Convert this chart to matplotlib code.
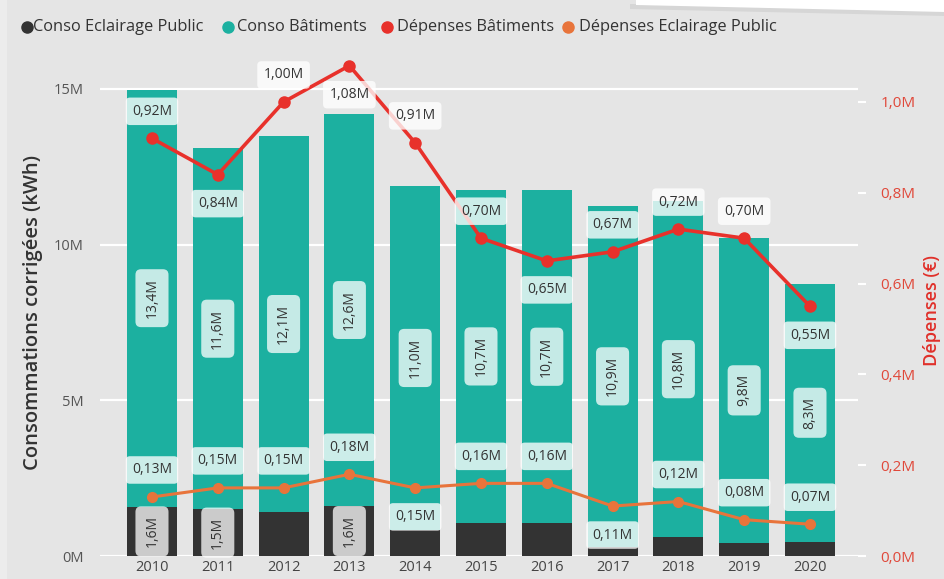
import matplotlib
matplotlib.use("Agg")
import matplotlib.pyplot as plt
import numpy as np
from matplotlib.patches import Polygon, Rectangle
from matplotlib.lines import Line2D

years = ["2010", "2011", "2012", "2013", "2014", "2015", "2016", "2017", "2018", "2019", "2020"]
conso_eclairage = [1.58, 1.5, 1.4, 1.6, 0.84, 1.06, 1.05, 0.3, 0.6, 0.42, 0.45]
conso_batiments = [13.4, 11.6, 12.1, 12.6, 11.04, 10.7, 10.7, 10.94, 10.8, 9.8, 8.3]
depenses_batiments = [0.92, 0.84, 1.00, 1.08, 0.91, 0.70, 0.65, 0.67, 0.72, 0.70, 0.55]
depenses_eclairage = [0.13, 0.15, 0.15, 0.18, 0.15, 0.16, 0.16, 0.11, 0.12, 0.08, 0.07]
left_ticks = [0, 5, 10, 15]
right_ticks = [0.0, 0.2, 0.4, 0.6, 0.8, 1.0]

# label placement (style)
red_pos = ['above', 'below', 'above', 'below', 'above', 'above', 'below', 'above', 'above', 'above', 'below']
orange_pos = ['above', 'above', 'above', 'above', 'below', 'above', 'above', 'below', 'above', 'above', 'above']

plt.rcParams['font.family'] = ['Open Sans', 'DejaVu Sans']

C_DARK = '#333333'
C_TEAL = '#1cb0a0'
C_RED = '#e8312b'
C_ORANGE = '#e8743b'
BG = '#e5e5e5'

W, H = 945, 579
fig = plt.figure(figsize=(W / 100, H / 100), dpi=100)
fig.patch.set_facecolor(BG)

# light strip on left edge and white card at top-right (screenshot artefacts)
fig.add_artist(Rectangle((0, 0), 7 / W, 1, transform=fig.transFigure, fc='#ececec', ec='none', zorder=0))
fig.add_artist(Polygon([[630 / W, 1 - 4 / H], [1, 1 - 10 / H], [1, 1 - 16 / H], [630 / W, 1 - 9 / H]],
                       closed=True, transform=fig.transFigure, fc='#d6d6d6', ec='none', zorder=0))
fig.add_artist(Polygon([[636 / W, 1], [1, 1], [1, 1 - 12 / H], [636 / W, 1 - 5 / H]],
                       closed=True, transform=fig.transFigure, fc='white', ec='none', zorder=1))

ax = fig.add_axes([100 / W, 23 / H, 758 / W, 501 / H])
ax.set_facecolor('none')
x = np.arange(len(years))
bw = 0.76
ax.bar(x, conso_eclairage, width=bw, color=C_DARK, zorder=2)
ax.bar(x, conso_batiments, bottom=conso_eclairage, width=bw, color=C_TEAL, zorder=2)
ax.set_xlim(-0.79, 10.73)
ax.set_ylim(0, 16.09)
ax.set_yticks(left_ticks)
ax.set_yticklabels([f"{t}M" for t in left_ticks])
ax.set_xticks(x)
ax.set_xticklabels(years)
ax.grid(axis='y', color='white', lw=1.6, zorder=0)
ax.set_axisbelow(True)
for s in ax.spines.values():
    s.set_visible(False)
ax.tick_params(axis='y', length=0, pad=12, labelsize=10.5, labelcolor='#555555')
ax.tick_params(axis='x', length=0, pad=3, labelsize=10.5, labelcolor='#444444')

ax2 = ax.twinx()
ax2.set_ylim(0, 1.1035)
ax2.set_yticks(right_ticks)
ax2.set_yticklabels([f"{t:.1f}M".replace('.', ',') for t in right_ticks])
for s in ax2.spines.values():
    s.set_visible(False)
ax2.tick_params(axis='y', length=6, width=1.5, color='white', pad=10, labelsize=11, labelcolor='#e0483a')

ax2.plot(x, depenses_batiments, color=C_RED, lw=2.6, marker='o', ms=8, zorder=4)
ax2.plot(x, depenses_eclairage, color=C_ORANGE, lw=2.2, marker='o', ms=7, zorder=4)

box = dict(boxstyle='round,pad=0.45,rounding_size=0.3', fc='white', ec='none', alpha=0.78)
vbox = dict(boxstyle='round,pad=0.65,rounding_size=0.4', fc='white', ec='none', alpha=0.75)

# bar labels
for i in x:
    yc = conso_eclairage[i] + conso_batiments[i] / 2
    ax2.text(i, yc, f"{conso_batiments[i]:.1f}M".replace('.', ','), transform=ax.transData,
             rotation=90, ha='center', va='center', fontsize=10, color='#333333', bbox=vbox, zorder=6)
    if conso_eclairage[i] >= 1.5:
        ax2.text(i, conso_eclairage[i] / 2, f"{conso_eclairage[i]:.1f}M".replace('.', ','),
                 transform=ax.transData, rotation=90, ha='center', va='center', fontsize=10,
                 color='#333333', bbox=vbox, zorder=6)

# line labels
for vals, pos in ((depenses_batiments, red_pos), (depenses_eclairage, orange_pos)):
    for i in x:
        dy = 27 if pos[i] == 'above' else -29
        ax2.annotate(f"{vals[i]:.2f}M".replace('.', ','), (i, vals[i]), xytext=(0, dy),
                     textcoords='offset pixels', ha='center', va='center', fontsize=10,
                     color='#333333', bbox=box, zorder=7)

# axis titles
fig.text(33 / W, 1 - 313 / H, "Consommations corrigées (kWh)", rotation=90, ha='center', va='center',
         fontsize=14.5, fontweight='semibold', color='#333333')
fig.text(932 / W, 1 - 310 / H, "Dépenses (€)", rotation=90, ha='center', va='center',
         fontsize=13, fontweight='semibold', color='#e0302a')

# legend
legend_items = [("Conso Eclairage Public", C_DARK, 27, 33),
                ("Conso Bâtiments", C_TEAL, 228, 237),
                ("Dépenses Bâtiments", C_RED, 387, 397),
                ("Dépenses Eclairage Public", C_ORANGE, 568, 579)]
ly = 1 - 27 / H
for lab, col, dx, tx in legend_items:
    fig.add_artist(Line2D([dx / W], [ly], marker='o', ms=8, color=col, ls='none',
                          transform=fig.transFigure))
    fig.text(tx / W, ly, lab, va='center', ha='left', fontsize=11.8, color='#333333')

fig.savefig("out.png", dpi=100, facecolor=fig.get_facecolor())
